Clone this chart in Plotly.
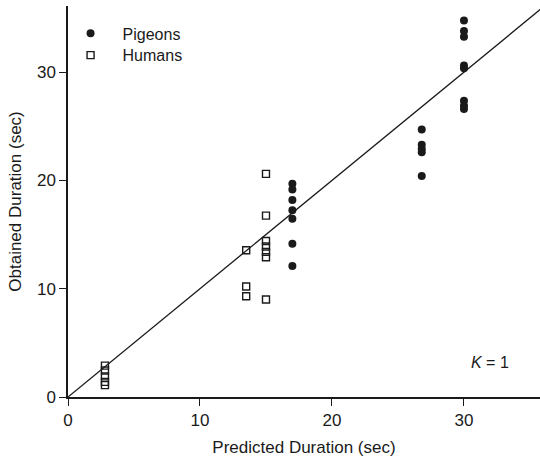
import plotly.graph_objects as go

# Data
pigeon_x = [17]*7 + [26.8]*5 + [30]*8
pigeon_y = [19.7, 19.15, 18.2, 17.25, 16.45, 14.15, 12.1,
            24.7, 23.3, 22.9, 22.6, 20.4,
            34.75, 33.8, 33.25, 30.6, 30.35, 27.35, 26.9, 26.6]

human_x = [2.8]*5 + [13.5]*3 + [15]*7
human_y = [2.9, 2.45, 1.9, 1.4, 1.1,
           13.55, 10.2, 9.3,
           20.6, 16.75, 14.4, 13.9, 13.4, 12.9, 9.0]

fit_x = [0, 36]
fit_y = [0, 36]   # K = 1: obtained = predicted

x_ticks = [0, 10, 20, 30]
y_ticks = [0, 10, 20, 30]

FONT = "Liberation Sans, Arial, Helvetica, sans-serif"
INK = "#1a1a1a"

fig = go.Figure()
fig.add_trace(go.Scatter(x=fit_x, y=fit_y, mode="lines",
                         line=dict(color=INK, width=1.3),
                         showlegend=False, hoverinfo="skip"))
fig.add_trace(go.Scatter(x=pigeon_x, y=pigeon_y, mode="markers", name="Pigeons",
                         legend="legend",
                         marker=dict(symbol="circle", size=8, color=INK,
                                     line=dict(width=0))))
fig.add_trace(go.Scatter(x=human_x, y=human_y, mode="markers", name="Humans",
                         legend="legend2",
                         marker=dict(symbol="square-open", size=7, color=INK,
                                     line=dict(width=1.4))))

fig.add_annotation(x=0.895, y=0.0895, xref="paper", yref="paper",
                   text="<i>K</i> = 1", showarrow=False,
                   xanchor="center", yanchor="middle",
                   font=dict(family=FONT, size=16, color=INK))

legend_common = dict(x=-0.02, xanchor="left", yanchor="middle",
                     bgcolor="rgba(0,0,0,0)", itemwidth=54,
                     font=dict(family=FONT, size=16, color=INK))

fig.update_layout(
    width=540, height=462,
    margin=dict(l=68, r=0, t=6, b=65),
    paper_bgcolor="white", plot_bgcolor="white",
    font=dict(family=FONT, size=17, color=INK),
    showlegend=True,
    legend=dict(y=0.930, **legend_common),
    legend2=dict(y=0.874, **legend_common),
    xaxis=dict(range=[0, 35.76], tickvals=x_ticks, ticks="outside", ticklen=7,
               tickwidth=1.3, tickcolor=INK, showline=True, linecolor=INK,
               linewidth=1.5, showgrid=False, zeroline=False,
               tickfont=dict(size=17),
               title=dict(text="Predicted Duration (sec)", standoff=12,
                          font=dict(size=17))),
    yaxis=dict(range=[0, 36.1], tickvals=y_ticks, ticks="outside", ticklen=7,
               tickwidth=1.3, tickcolor=INK, showline=True, linecolor=INK,
               linewidth=1.5, showgrid=False, zeroline=False,
               tickfont=dict(size=17),
               title=dict(text="Obtained Duration (sec)", standoff=11,
                          font=dict(size=17))),
)

fig.write_html("out.html")
